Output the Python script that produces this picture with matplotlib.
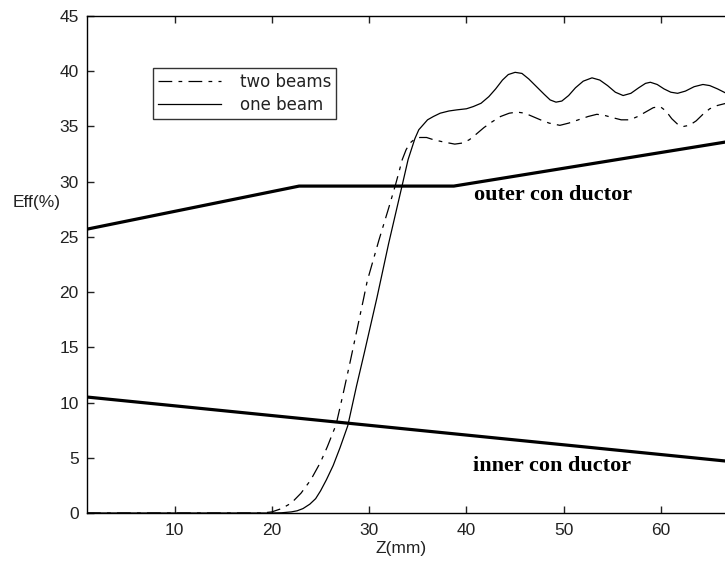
import numpy as np
import matplotlib.pyplot as plt

# Z (mm) and efficiency (%)
z_one = [1, 10, 20, 21, 22, 22.6, 23.2, 23.9, 24.5, 25, 25.6, 26.3, 27, 27.8, 28.7, 29.5,
         30.8, 32, 33.4, 34, 34.7, 35.1, 35.5, 36, 36.6, 37.3, 38.2, 39, 40, 40.7,
         41.5, 42.3, 43, 43.7, 44.3, 45, 45.7, 46.4, 47.2, 48, 48.6, 49.2, 49.8, 50.5,
         51.2, 52, 52.9, 53.7, 54.5, 55.3, 56.1, 56.9, 57.7, 58.4, 58.9, 59.6, 60.3,
         61, 61.7, 62.5, 63.4, 64.3, 65, 65.8, 66.7]
eff_one = [0, 0, 0, 0.02, 0.1, 0.2, 0.4, 0.8, 1.3, 2.0, 3.0, 4.3, 5.9, 7.9, 11.5, 14.5,
           19.5, 24.4, 29.7, 32.0, 33.9, 34.7, 35.1, 35.6, 35.9, 36.2, 36.4, 36.5, 36.6, 36.8,
           37.1, 37.7, 38.4, 39.2, 39.7, 39.9, 39.8, 39.3, 38.6, 37.9, 37.4, 37.2, 37.3, 37.8,
           38.5, 39.1, 39.4, 39.2, 38.7, 38.1, 37.8, 38.0, 38.5, 38.9, 39.0, 38.8, 38.4,
           38.1, 38.0, 38.2, 38.6, 38.8, 38.7, 38.4, 38.0]

z_two = [1, 10, 19, 20, 21, 22, 23, 24, 25, 25.7, 26.6, 27.3, 28, 29.4, 29.8, 31, 32,
         32.7, 33.1, 33.4, 33.8, 34.2, 34.6, 35.2, 35.9, 36.6, 37.6, 38.8, 39.6, 40.3,
         41, 41.8, 42.6, 43.5, 44.4, 45.2, 46, 46.8, 47.6, 48.5, 49.6, 50.5, 51.5, 52.5,
         53.4, 54.2, 55, 55.9, 56.8, 57.6, 58.4, 59.2, 59.9, 60.5, 61.1, 61.7, 62.3,
         62.9, 63.6, 64.3, 65, 65.8, 66.7]
eff_two = [0, 0, 0, 0.1, 0.4, 0.9, 1.8, 3.0, 4.6, 6.0, 8.0, 10.7, 13.5, 19.3, 21.0, 24.7, 27.6,
           29.7, 31.0, 32.0, 32.9, 33.5, 33.8, 34.0, 34.0, 33.8, 33.6, 33.4, 33.5, 33.8,
           34.3, 34.9, 35.4, 35.9, 36.2, 36.3, 36.2, 35.9, 35.6, 35.3, 35.1, 35.3, 35.6, 35.9,
           36.1, 36.0, 35.8, 35.6, 35.6, 35.9, 36.3, 36.7, 36.8, 36.4, 35.7, 35.2, 35.0,
           35.1, 35.5, 36.1, 36.6, 36.9, 37.1]

z_outer = [1, 22.8, 38.7, 66.7]
r_outer = [25.7, 29.6, 29.6, 33.6]
z_inner = [1, 66.7]
r_inner = [10.5, 4.7]

plt.rcParams['font.family'] = ['Liberation Sans', 'DejaVu Sans']

fig = plt.figure(figsize=(7.25, 5.62), dpi=100)
ax = fig.add_axes([87 / 725, 49 / 562, 638 / 725, 497 / 562])

ax.plot(z_outer, r_outer, color='black', lw=2.3, solid_capstyle='butt')
ax.plot(z_inner, r_inner, color='black', lw=2.3, solid_capstyle='butt')
l2, = ax.plot(z_two, eff_two, color='black', lw=0.9, linestyle=(0, (11, 5, 3, 5)))
l1, = ax.plot(z_one, eff_one, color='black', lw=0.9)

ax.set_xlim(1, 66.57)
ax.set_ylim(0, 45)
ax.set_xticks(np.arange(10, 61, 10))
ax.set_yticks(np.arange(0, 46, 5))
ax.spines['right'].set_visible(False)
for s in ax.spines.values():
    s.set_linewidth(1.0)
ax.tick_params(direction='in', length=5, width=1, top=True, right=False,
               labelsize=12.5, colors='#222222')
ax.tick_params(axis='x', pad=7)
ax.tick_params(axis='y', pad=6)

leg = ax.legend([l2, l1], ['two beams', 'one beam'], loc='upper left',
                bbox_to_anchor=(66 / 638, 1 - 52 / 497),
                prop={'family': 'DejaVu Sans', 'size': 12},
                frameon=True, fancybox=False, edgecolor='black',
                handlelength=3.8, handletextpad=1.1, borderpad=0.3,
                labelspacing=0.3, borderaxespad=0)
leg.get_frame().set_linewidth(1.0)
for t in leg.get_texts():
    t.set_color('#222222')

ax.text(40.8, 28.8, 'outer con ductor', family='Liberation Serif', weight='bold',
        fontsize=16, va='center', ha='left')
ax.text(40.7, 4.3, 'inner con ductor', family='Liberation Serif', weight='bold',
        fontsize=16, va='center', ha='left')

fig.text(13 / 725, 1 - 203 / 562, 'Eff(%)', fontsize=12.5, va='center', ha='left',
         color='#222222')
fig.text(401 / 725, 1 - 549 / 562, 'Z(mm)', fontsize=12.5, va='center', ha='center',
         color='#222222')

fig.savefig('out.png', dpi=100)
